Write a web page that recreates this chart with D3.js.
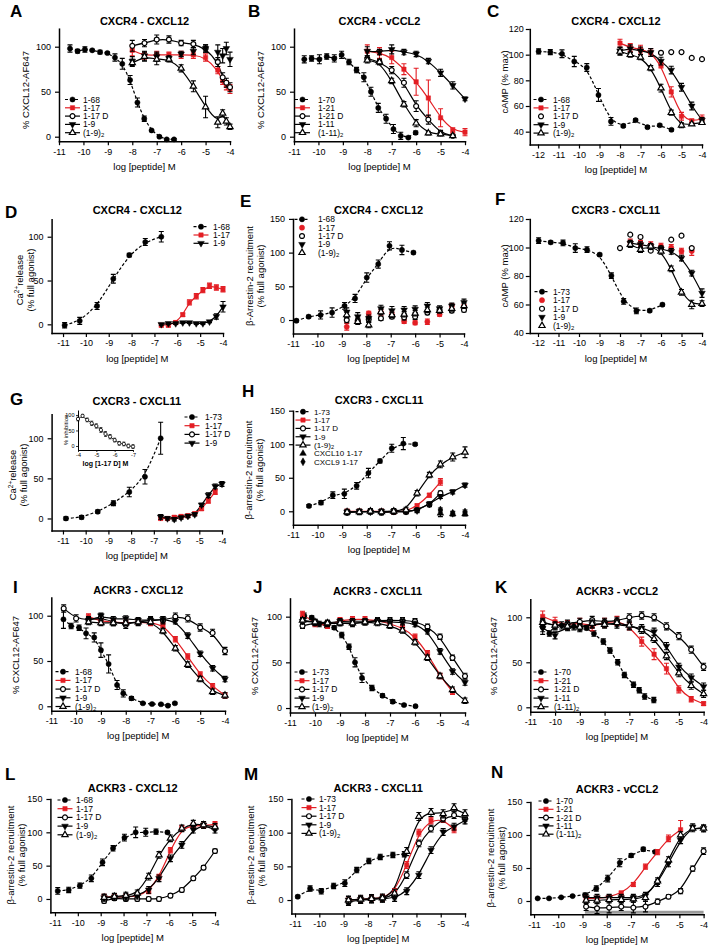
<!DOCTYPE html>
<html><head><meta charset="utf-8">
<script src="https://cdn.jsdelivr.net/npm/d3@7"></script>
<style>body{margin:0;background:#fff}svg{display:block}</style>
</head><body><svg id="c" width="709" height="945"></svg>
<script>
const FONT = '"Liberation Sans", Arial, sans-serif';
const RED = '#e31e24';
// ---------------- DATA ----------------
// Panel A
const A_x68 = [-10.55,-10.24,-9.94,-9.64,-9.32,-9.02,-8.71,-8.41,-8.09,-7.79,-7.51,-7.21,-6.89,-6.59,-6.29];
const A_y68 = [98,95,97,96,94,93,88,81,63,38,20,7,0,-3,-3];
const A_e68 = [4,2,3,1,2,1,4,6,5,5,3,1,1,1,1];
const A_xg = [-8,-7.5,-7,-6.5,-6,-5.5,-5,-4.5,-4.3,-4.15,-4];
const A_y117 = [96,90,91,91,91,91,88,74,62,57,53];
const A_e117 = [6,4,4,3,4,4,4,4,4,5,5];
const A_y117D = [101,104,108,108,104,103,98,83,66,60,55];
const A_e117D = [6,4,5,4,3,4,4,5,5,5,5];
const A_y19 = [84,90,89,87,92,95,98,94,90,98,86];
const A_e19 = [5,5,5,3,3,4,4,8,8,7,8];
const A_y19d = [82,89,86,86,76,56,33,16,26,17,11];
const A_e19d = [4,5,6,3,4,6,12,6,4,4,3];
// Panel B
const B_x70 = [-10.58,-10.28,-9.96,-9.66,-9.35,-9.05,-8.75,-8.44,-8.14,-7.85,-7.55,-7.23,-6.93,-6.63,-6.32,-6.02];
const B_y70 = [86,87,86,89,87,91,83,74,66,50,32,20,8.5,1,-1,4.4];
const B_e70 = [4,3,5,3,4,4,3,3,5,5,5,5,5,4,1,2];
const B_xg = [-8,-7.5,-7,-6.5,-6,-5.5,-5,-4.5,-4];
const B_y121 = [95,93,88,75,61,43,21,7,5];
const B_e121 = [7,6,7,6,15,20,10,3,4];
const B_y121D = [87,83,74,60,34,19,4,1];
const B_e121D = [3,3,4,5,6,5,3,1];
const B_y111 = [95,94,97,94,92,84,71,57,42];
const B_e111 = [5,3,5,3,3,3,4,4,2];
const B_y111d = [85,83,62,36,15,4,3,1];
const B_e111d = [3,3,3,3,4,2,2,1];
// Panel C
const C_x68 = [-11.97,-11.4,-10.83,-10.23,-9.62,-9.05,-8.44,-7.84,-7.24,-6.66,-6.06,-5.49];
const C_y68 = [102.5,102,100.7,94.7,90,68.6,48,44.5,49,43.5,45,41.5];
const C_e68 = [2,2,3,4,3,5,3,1,1,1,1,1];
const C_xg = [-8,-7.5,-7,-6.5,-6,-5.5,-5,-4.5,-4];
const C_y117 = [109,105.6,104.3,101.7,91.6,71,52,48,50];
const C_e117 = [3,3,3,3,2,4,3,2,3];
const C_x117D = [-6,-5.5,-5,-4.5,-4];
const C_y117D = [101.5,102,102,97.5,96.5];
const C_y19 = [103,104.6,103,101.7,95,88,74.6,60,49];
const C_e19 = [3,3,3,3,3,3,3,3,2];
const C_y19d = [102.5,100,98,89.5,73.9,54.8,45,46,47];
const C_e19d = [3,2,2,2,3,2,2,1,1];
// Panel D
const D_x68 = [-10.93,-10.27,-9.51,-8.80,-8.10,-7.40,-6.70];
const D_y68 = [-1,4,21,52,79,94,100];
const D_e68 = [3,4,4,5,2,4,6];
const D_xg = [-6.7,-6.39,-6.07,-5.76,-5.47,-5.17,-4.88,-4.59,-4.29,-4.0];
const D_y117 = [-1,-1,2,11,25,32,39,44,42,40];
const D_e117 = [2,2,2,2,3,3,3,3,3,3];
const D_y19 = [0,1,1,2,2,1,1,3,9,20];
const D_e19 = [1,1,1,1,1,1,1,1,3,6];
// Panel E
const E_x68 = [-10.86,-10.36,-9.87,-9.40,-8.89,-8.46,-7.98,-7.51,-7.05,-6.54,-6.07];
const E_y68 = [-1,5,7.5,11,21,32,63,83,110,104,100];
const E_e68 = [2,2,6,7,5,6,7,6,6,7,2];
const E_xg = [-8.8,-8.35,-7.9,-7.4,-6.95,-6.45,-6.0,-5.5,-5.0,-4.5,-4.0];
const E_y117 = [-10,-2,10,11,8,-2,-4,-2.5,8.5,21,20];
const E_e117 = [5,3,3,4,4,3,3,4,3,3,3];
const E_y117D = [0,-1,1,2.5,5,4,5,11,15,14,15];
const E_e117D = [4,4,4,3,3,4,4,3,3,3,3];
const E_y19 = [12,5,2.5,17,14,15,16,21,17,21,26];
const E_e19 = [6,6,5,5,6,5,5,5,4,4,5];
const E_y19d = [7.5,-2.5,-7.5,12,7.5,8.5,10,15,14,17,21];
const E_e19d = [4,4,4,4,4,4,4,4,4,4,4];
// Panel F
const F_x73 = [-11.97,-11.38,-10.78,-10.18,-9.61,-8.99,-8.42,-7.82,-7.2,-6.55,-5.93];
const F_y73 = [104.8,103.6,103.2,99.6,98.5,95,80.2,62.2,55.5,55.7,59.9];
const F_e73 = [2,1,2,3,2,1,2,2,2,1,1];
const F_x117 = [-7.5,-7,-6.5,-6,-5.5,-5,-4.5];
const F_y117 = [104,103,102,101,100,97.5,97.5];
const F_e117 = [2,2,2,2,2,2,3];
const F_x117D = [-8,-7.5,-7,-6.5,-6,-5.5,-5,-4.5];
const F_y117D = [99.6,109,107.4,97.8,99.6,105.5,108.3,99.6];
const F_x19 = [-7.5,-7,-6.5,-6,-5.5,-5,-4.5,-4];
const F_y19 = [103,102,100.8,99,97.3,92.6,82,68];
const F_e19 = [2,2,2,2,2,2,2,3];
const F_y19d = [102,98.5,100.8,97.3,85,68.5,60,60.6];
const F_e19d = [2,2,2,2,2,2,3,2];
// Panel G
const G_x73 = [-10.87,-10.18,-9.47,-8.78,-8.08,-7.39,-6.70];
const G_y73 = [0,1.5,8.5,19,33,52,100];
const G_e73 = [2,2,2,3,6,9,20];
const G_xg = [-6.7,-6.4,-6.1,-5.8,-5.5,-5.2,-4.9,-4.6,-4.3,-4.0];
const G_y117 = [0,0,1.5,2.5,3.5,6,12,22,33];
const G_e117 = [2,2,2,2,2,2,2,3,3];
const G_y19 = [2,0,-1,1,3,5,17,29,40,43];
const G_e19 = [3,2,2,2,2,2,2,3,3,3];
const G_ix = [-4,-4.25,-4.5,-4.75,-5,-5.25,-5.5,-5.75,-6,-6.25,-6.5,-6.75,-7];
const G_iy = [87,97,84,73,64.5,51.6,38.7,30,19,8.6,6.5,0,-2];
const G_ie = [6,5,6,7,7,8,8,7,6,6,6,6,6];
// Panel H
const H_x73 = [-10.35,-9.86,-9.38,-8.91,-8.41,-7.93,-7.46,-6.98,-6.51,-6.03];
const H_y73 = [8,13,24,26,38,57,75,94,101,100];
const H_e73 = [2,3,5,7,5,7,3,6,9,2];
const H_xg = [-8.8,-8.3,-7.85,-7.4,-6.9,-6.4,-5.95,-5.45,-5.0,-4.5,-4.0];
const H_y19d = [-1,-1,0,-1,0,2,27,54,70,81,88];
const H_e19d = [4,4,4,4,4,4,4,4,5,6,8];
const H_y117 = [0,0,0,0,-1,0,8,24,44];
const H_e117 = [3,3,3,3,3,3,3,3,5];
const H_y117D = [-2,-1,0,-2,-1,-1,2,10,27];
const H_y19 = [-1,0,-1,0,0,0,1,11,22,29,39];
const H_x109 = [-5,-4.5,-4];
const H_y10 = [-3,-4,-4];
const H_e10 = [5,3,3];
const H_y9 = [2,-3,-1];
// Panel I
const I_x68 = [-10.51,-10.2,-9.88,-9.6,-9.27,-9.0,-8.69,-8.35,-8.1,-7.77,-7.31,-6.94,-6.58,-6.3,-6.02];
const I_y68 = [96,88.6,86.8,80.5,76,62,46.7,23.5,14.3,8.8,3.3,2.5,2.2,0.7,3.3];
const I_e68 = [10,3,3,6,5,8,10,5,4,2,1,1,1,1,1];
const I_xg = [-10.5,-10,-9.5,-9,-8.5,-8,-7.5,-7,-6.5,-6,-5.5,-5,-4.5,-4];
const I_xg2 = [-9.5,-9,-8.5,-8,-7.5,-7,-6.5,-6,-5.5,-5,-4.5,-4];
const I_y117 = [99,94,93,92,93,92,90,74,55,35,22,12];
const I_y117D = [108,97,95,98,93,90,93,95,95,99,97,87,81,61];
const I_y19 = [95,100,96,97,95,95,96,94,78,58,42,30];
const I_y19d = [93,92,92,92,93,93,83,64,46,30,16,12];
// Panel J
const J_x73 = [-10.43,-10.13,-9.83,-9.53,-9.23,-8.93,-8.64,-8.4,-8.12,-7.72,-7.3,-6.89,-6.44,-5.98];
const J_y73 = [101,99,92,90,88,80,67,50,33,22,13.5,7,3.3,2];
const J_e73 = [3,2,3,2,2,3,3,5,5,3,2,2,1,1];
const J_xg = [-10.5,-10,-9.5,-9,-8.5,-8,-7.5,-7,-6.5,-6,-5.5,-5,-4.5,-4];
const J_y117 = [103,92,90,96,97,97,96,92,88,78,60,35,18];
const J_y117D = [90,93,92,93,92,94,96,96,96,95,89,78,55,35];
const J_y19 = [95,94,93,95,95,95,95,94,94,92,84,62,40,28];
const J_y19d = [96,94,93,93,93,94,93,90,85,72,55,35,20,8];
// Panel K
const K_x70 = [-10.5,-10.23,-10,-9.73,-9.49,-9.24,-8.99,-8.72,-8.43,-8.05,-7.78,-7.47,-7.2,-6.83,-6.6,-6.38,-6.01];
const K_y70 = [89,82,91,91,90,90,89,88,82,73,63,50,36,25,19,12,8];
const K_e70 = [8,3,3,4,5,4,3,2,3,3,3,3,3,3,3,3,3];
const K_xg = [-10.5,-10,-9.5,-9,-8.5,-8,-7.5,-7,-6.5,-6,-5.5,-5,-4.5,-4];
const K_y121 = [101,95,91.5,94,90,94,96,90,73,59,43,20,9,4];
const K_e121 = [6,5,5,5,5,5,5,4,5,6,6,4,3,2];
const K_y121D = [95,90,93,95,97,95,96,100,102,100,90,79,64,45];
const K_y111 = [88,80,90,88,92,93,92,90,88,84,68,45,33,23];
const K_y111d = [94,91,90,89,93,92,94,91,86,76,57,38,24,15];
// Panel L
const L_x68 = [-10.88,-10.4,-9.91,-9.41,-8.92,-8.46,-7.96,-7.47,-7.03,-6.58,-6.08];
const L_y68 = [12,13.5,20,31,55,76,92,100,100,101,100];
const L_e68 = [5,4,4,5,5,4,5,8,6,4,2];
const L_xg = [-8.85,-8.4,-7.9,-7.4,-6.9,-6.45,-5.95,-5.45,-4.95,-4.5,-4];
const L_y19d = [2,3.5,5,8.5,33.5,66,91,106,113,111,108];
const L_y117 = [3,3,3,4,12,33,73,106,110,110,112];
const L_y19 = [2,3,3,5,13.5,31,61,81,104,111,104];
const L_y117D = [-3,1,0,0,0,0,5,13.5,31,47,72];
// Panel M
const M_x73 = [-10.89,-10.38,-9.92,-9.41,-8.95,-8.46,-7.96,-7.49,-6.97,-6.5];
const M_y73 = [5,17,13,21,25,44.5,58,64,67,68];
const M_e73 = [2,4,4,4,5,4,4,4,4,4];
const M_xg = [-8.8,-8.3,-7.85,-7.4,-6.9,-6.4,-5.9,-5.4,-4.9,-4.45,-4];
const M_y19d = [0,1,2,3,10,72,124,130,128,137,128];
const M_y117 = [0,1,2,3,12,52,100,118,120,105];
const M_y117D = [-3,0,1,2,7,37,84,106,121,126,122];
const M_y19 = [0,1,1,2,3,13,37,74,101,109,118];
// Panel N
const N_x70 = [-10.85,-10.38,-9.88,-9.41,-8.89,-8.43,-7.96,-7.46,-6.99,-6.49,-6.0];
const N_y70 = [4,4,5.5,7.5,9,19,34,58,69,78.5,74.5];
const N_e70 = [1,1,1,1,3,4,5,6,3,3,2];
const N_xg = [-8.85,-8.4,-7.9,-7.4,-6.9,-6.4,-5.9,-5.45,-4.95,-4.45,-4];
const N_y121 = [4,4,6,12,25,52,74,95,108];
const N_e121 = [3,3,3,3,3,4,4,5,14];
const N_y121D = [-8.5,-11,-10,-8.5,-10,-8.5,-1,6.5,15,49,75.5];
const N_e121D = [6,8,8,6,8,8,4,3,4,4,5];
const N_y111 = [5,5,5,5,5,8,27,57,92,112,110];
const N_y111d = [1,1,2,2,3,5,30,62,100,110,110];
const N_band = [-8.9,-4];

const XT11 = [-11,-10,-9,-8,-7,-6,-5,-4];
const XT12 = [-12,-11,-10,-9,-8,-7,-6,-5,-4];

// ---------------- DRAW ----------------
const svg = d3.select('#c');
const K = '#000';
function S(x,y,e,s,c,ln,lab,extra){ return Object.assign({x,y,e,s,c,ln,lab},extra||{}); }

function rich(t, str){
  const parts = str.split(/(_\d+|\^[^^]+\^)/).filter(p=>p!=='');
  let pend = 0;
  parts.forEach(p=>{
    if(p[0]==='_'){ t.append('tspan').attr('dy',1.2+pend).attr('font-size','70%').text(p.slice(1)); pend=-1.2; }
    else if(p[0]==='^'){ t.append('tspan').attr('dy',-3.5+pend).attr('font-size','68%').text(p.slice(1,-1)); pend=3.5; }
    else { const ts=t.append('tspan').text(p); if(pend) ts.attr('dy',pend); pend=0; }
  });
}
const SYM = {circle:[d3.symbolCircle,21,1], ocircle:[d3.symbolCircle,19,0], square:[d3.symbolSquare,19,1],
  dtri:[d3.symbolTriangle,19,1], otri:[d3.symbolTriangle,17,0], tri:[d3.symbolTriangle,19,1], diamond:[d3.symbolDiamond,18,1]};
function drawSym(g, type, color, cx, cy, k){
  k = k||1;
  const [t,a,f] = SYM[type];
  g.append('path').attr('d', d3.symbol(t, a*k)())
    .attr('transform', `translate(${cx},${cy})` + (type==='dtri'?' rotate(180)':''))
    .attr('fill', f?color:'#fff').attr('stroke', color).attr('stroke-width', f?0.5:1.2*Math.sqrt(k));
}

function drawPanel(p){
  const g = svg.append('g');
  const x = d3.scaleLinear().domain(p.xd).range(p.xr);
  const y = d3.scaleLinear().domain(p.yd).range(p.yr);
  const cx = (p.xr[0]+p.xr[1])/2;
  g.append('text').attr('x',p.lx).attr('y',p.ly).attr('font-family',FONT).attr('font-weight','bold').attr('font-size',17).text(p.L);
  g.append('text').attr('x',cx).attr('y',p.ty).attr('text-anchor','middle').attr('font-family',FONT).attr('font-weight','bold').attr('font-size',11).text(p.title);
  const ax = g.append('g').attr('transform',`translate(0,${p.yr[0]})`)
    .call(d3.axisBottom(x).tickValues(p.xt).tickSize(4).tickSizeOuter(0).tickPadding(3).tickFormat(d=>String(d)));
  const ay = g.append('g').attr('transform',`translate(${p.xr[0]},0)`)
    .call(d3.axisLeft(y).tickValues(p.yt).tickSize(4).tickSizeOuter(0).tickPadding(p.ytp||4).tickFormat(d=>String(d)));
  [ax,ay].forEach(a=>{
    a.attr('font-family',FONT).attr('font-size',9);
    a.select('.domain').attr('stroke-width',1.5).attr('stroke-linecap','square');
    a.selectAll('.tick line').attr('stroke-width',1.2);
  });
  g.append('text').attr('x',cx).attr('y',p.yr[0]+28.5).attr('text-anchor','middle').attr('font-family',FONT).attr('font-size',9.5).text('log [peptide] M');
  p.ylab.forEach((l,i)=>{
    const t = g.append('text').attr('transform',`translate(${p.ylx[i]},${p.yly}) rotate(-90)`).attr('text-anchor','middle').attr('font-family',FONT).attr('font-size',9.5);
    rich(t,l);
  });
  if(p.band){
    g.append('path').attr('d',`M${x(p.band[0])},${p.yr[0]-2}H${x(p.band[1])}`).attr('stroke','#9a9a9a').attr('stroke-width',3);
  }
  const line = d3.line().x(d=>x(d[0])).y(d=>y(d[1])).curve(d3.curveBasis);
  const ptsOf = s => s.x.map((v,i)=>[v, s.y[i], s.e==null?0:(Array.isArray(s.e)?s.e[i]:s.e)]).filter(d=>d[1]!=null);
  p.series.forEach(s=>{
    const pts = ptsOf(s);
    if(pts.length && s.ln){
      g.append('path').attr('d',line(pts)).attr('fill','none').attr('stroke',s.c).attr('stroke-width',1.2)
        .attr('stroke-dasharray', s.ln==='dash'?'3,2':null);
    }
  });
  p.series.forEach(s=>{
    const pts = ptsOf(s);
    pts.forEach(d=>{
      if(d[2]>0){
        const X=x(d[0]), y0=y(d[1]-d[2]), y1=y(d[1]+d[2]);
        g.append('path').attr('d',`M${X},${y0}V${y1}M${X-2.5},${y0}h5M${X-2.5},${y1}h5`).attr('stroke',s.c).attr('stroke-width',1.1).attr('fill','none');
      }
    });
    pts.forEach(d=> drawSym(g, s.s, s.c, x(d[0]), y(d[1])));
  });
  const L = p.leg;
  p.series.forEach((s,i)=>{
    const yy = L.y0 + i*L.dy;
    const lg = s.legln!==undefined ? s.legln : s.ln;
    if(lg) g.append('path').attr('d',`M${L.cx-7.5},${yy}H${L.cx+7.5}`).attr('stroke',s.c).attr('stroke-width',1.2).attr('stroke-dasharray', lg==='dash'?'3,2':null);
    drawSym(g, s.s, s.c, L.cx, yy);
    const t = g.append('text').attr('x',L.tx).attr('y',yy+3).attr('font-family',FONT).attr('font-size',L.fs||8.5).attr('fill','#000');
    rich(t, s.lab);
  });
  return {g,x,y};
}

const panels = [
 {L:'A',lx:10,ly:17,title:'CXCR4 - CXCL12',ty:25,xd:[-11,-4],xr:[59,230],yd:[-5,120],yr:[141.2,28.7],xt:XT11,yt:[0,50,100],
  ylab:['% CXCL12-AF647'],ylx:[28.5],yly:90,leg:{cx:72.5,tx:83,y0:99.5,dy:8.3},
  series:[S(A_x68,A_y68,A_e68,'circle',K,'dash','1-68'),S(A_xg,A_y117,A_e117,'square',RED,'solid','1-17'),
   S(A_xg,A_y117D,A_e117D,'ocircle',K,'solid','1-17 D'),S(A_xg,A_y19,A_e19,'dtri',K,null,'1-9',{legln:'solid'}),S(A_xg,A_y19d,A_e19d,'otri',K,'solid','(1-9)_2')]},
 {L:'B',lx:248,ly:17,title:'CXCR4 - vCCL2',ty:25,xd:[-11,-4],xr:[294,465],yd:[-5,120],yr:[141.2,28.7],xt:XT11,yt:[0,50,100],
  ylab:['% CXCL12-AF647'],ylx:[263.5],yly:90,leg:{cx:302.5,tx:318,y0:99.5,dy:8.3},
  series:[S(B_x70,B_y70,B_e70,'circle',K,'dash','1-70'),S(B_xg,B_y121,B_e121,'square',RED,'solid','1-21'),
   S(B_xg,B_y121D,B_e121D,'ocircle',K,'solid','1-21 D'),S(B_xg,B_y111,B_e111,'dtri',K,'solid','1-11'),S(B_xg,B_y111d,B_e111d,'otri',K,'solid','(1-11)_2')]},
 {L:'C',lx:487,ly:17,title:'CXCR4 - CXCL12',ty:25,xd:[-12.4,-4],xr:[529.8,702],yd:[30,120],yr:[144.5,29],xt:XT12,yt:[40,60,80,100,120],ytp:2,
  ylab:['cAMP (% max)'],ylx:[507.5],yly:82,leg:{cx:541,tx:553,y0:99.5,dy:8.4},
  series:[S(C_x68,C_y68,C_e68,'circle',K,'dash','1-68'),S(C_xg,C_y117,C_e117,'square',RED,'solid','1-17'),
   S(C_x117D,C_y117D,null,'ocircle',K,null,'1-17 D'),S(C_xg,C_y19,C_e19,'dtri',K,'solid','1-9'),S(C_xg,C_y19d,C_e19d,'otri',K,'solid','(1-9)_2')]},
 {L:'D',lx:5,ly:218,title:'CXCR4 - CXCL12',ty:214,xd:[-11.5,-4],xr:[51.6,223],yd:[-10,120],yr:[333.1,219.2],xt:XT11,yt:[0,50,100],
  ylab:['Ca^2+^release','(% full agonist)'],ylx:[22.5,33.5],yly:280,leg:{cx:201,tx:213,y0:226.7,dy:8.3},
  series:[S(D_x68,D_y68,D_e68,'circle',K,'dash','1-68'),S(D_xg,D_y117,D_e117,'square',RED,'solid','1-17'),S(D_xg,D_y19,D_e19,'dtri',K,'solid','1-9')]},
 {L:'E',lx:240,ly:207,title:'CXCR4 - CXCL12',ty:214,xd:[-11,-4],xr:[293,464],yd:[-20,150],yr:[333.5,218.9],xt:XT11,yt:[0,50,100,150],
  ylab:['\u03b2-Arrestin-2 recruitment','(% full agonist)'],ylx:[253,264],yly:276,leg:{cx:302,tx:318,y0:219.3,dy:8.35},
  series:[S(E_x68,E_y68,E_e68,'circle',K,'dash','1-68'),S(E_xg,E_y117,E_e117,'circle',RED,null,'1-17'),
   S(E_xg,E_y117D,E_e117D,'ocircle',K,null,'1-17 D'),S(E_xg,E_y19,E_e19,'dtri',K,null,'1-9'),S(E_xg,E_y19d,E_e19d,'otri',K,null,'(1-9)_2')]},
 {L:'F',lx:495,ly:205,title:'CXCR3 - CXCL11',ty:214,xd:[-12.4,-4],xr:[529.8,702],yd:[40,120],yr:[333,219],xt:XT12,yt:[40,60,80,100,120],ytp:2,
  ylab:['cAMP (% max)'],ylx:[507.5],yly:276,leg:{cx:542,tx:553,y0:291.7,dy:8.5},
  series:[S(F_x73,F_y73,F_e73,'circle',K,'dash','1-73'),S(F_x117,F_y117,F_e117,'circle',RED,null,'1-17'),
   S(F_x117D,F_y117D,null,'ocircle',K,null,'1-17 D'),S(F_x19,F_y19,F_e19,'dtri',K,'solid','1-9',{legln:null}),S(F_x19,F_y19d,F_e19d,'otri',K,'solid','(1-9)_2',{legln:null})]},
 {L:'G',lx:10,ly:405,title:'CXCR3 - CXCL11',ty:405,xd:[-11.5,-4],xr:[51.6,222],yd:[-15,130],yr:[530.5,414.2],xt:XT11,yt:[0,50,100],
  ylab:['Ca^2+^release','(% full agonist)'],ylx:[16,27],yly:475,leg:{cx:192,tx:205,y0:417,dy:8.7},
  series:[S(G_x73,G_y73,G_e73,'circle',K,'dash','1-73'),S(G_xg,G_y117,G_e117,'square',RED,'solid','1-17'),
   S([],[],null,'ocircle',K,'solid','1-17 D'),S(G_xg,G_y19,G_e19,'dtri',K,'solid','1-9')]},
 {L:'H',lx:242,ly:397,title:'CXCR3 - CXCL11',ty:404,xd:[-11,-4],xr:[293,465],yd:[-20,150],yr:[524.7,410.7],xt:XT11,yt:[0,50,100,150],
  ylab:['\u03b2-arrestin-2 recruitment','(% full agonist)'],ylx:[251.5,262.5],yly:470,leg:{cx:303,tx:314,y0:411.7,dy:8.35,fs:8},
  series:[S(H_x73,H_y73,H_e73,'circle',K,'dash','1-73'),S(H_xg,H_y117,H_e117,'square',RED,'solid','1-17'),
   S(H_xg,H_y117D,3,'ocircle',K,'solid','1-17 D'),S(H_xg,H_y19,3,'dtri',K,'solid','1-9'),S(H_xg,H_y19d,H_e19d,'otri',K,'solid','(1-9)_2'),
   S(H_x109,H_y10,H_e10,'tri',K,null,'CXCL10 1-17'),S(H_x109,H_y9,3,'diamond',K,null,'CXCL9 1-17')]},
 {L:'I',lx:13,ly:593,title:'ACKR3 - CXCL12',ty:594,xd:[-11,-4],xr:[51.3,225],yd:[-5,120],yr:[710.8,597.6],xt:XT11,yt:[0,50,100],
  ylab:['% CXCL12-AF647'],ylx:[19],yly:655,leg:{cx:63,tx:75,y0:671.7,dy:8.7},
  series:[S(I_x68,I_y68,I_e68,'circle',K,'dash','1-68'),S(I_xg2,I_y117,3,'square',RED,'solid','1-17'),
   S(I_xg,I_y117D,4,'ocircle',K,'solid','1-17 D'),S(I_xg2,I_y19,3,'dtri',K,'solid','1-9'),S(I_xg2,I_y19d,3,'otri',K,'solid','(1-9)_2')]},
 {L:'J',lx:253,ly:593,title:'ACKR3 - CXCL11',ty:595,xd:[-11,-4],xr:[290,465],yd:[-5,120],yr:[712.6,598.4],xt:XT11,yt:[0,50,100],
  ylab:['% CXCL12-AF647'],ylx:[258],yly:656,leg:{cx:302,tx:312,y0:672,dy:8.7},
  series:[S(J_x73,J_y73,J_e73,'circle',K,'dash','1-73'),S(J_xg,J_y117,3,'square',RED,'solid','1-17'),
   S(J_xg,J_y117D,3,'ocircle',K,'solid','1-17 D'),S(J_xg,J_y19,3,'dtri',K,'solid','1-9'),S(J_xg,J_y19d,3,'otri',K,'solid','(1-9)_2')]},
 {L:'K',lx:495,ly:593,title:'ACKR3 - vCCL2',ty:595,xd:[-11,-4],xr:[530.3,703.6],yd:[-5,120],yr:[711.8,599.3],xt:XT11,yt:[0,50,100],
  ylab:['% CXCL12-AF647'],ylx:[497],yly:656,leg:{cx:541,tx:554,y0:672,dy:8.7},
  series:[S(K_x70,K_y70,K_e70,'circle',K,'dash','1-70'),S(K_xg,K_y121,K_e121,'square',RED,'solid','1-21'),
   S(K_xg,K_y121D,4,'ocircle',K,'solid','1-21 D'),S(K_xg,K_y111,4,'dtri',K,'solid','1-11'),S(K_xg,K_y111d,4,'otri',K,'solid','(1-11)_2')]},
 {L:'L',lx:5,ly:780,title:'ACKR3 - CXCL12',ty:792,xd:[-11.2,-4],xr:[50.4,215],yd:[-20,150],yr:[912.3,799],xt:XT11,yt:[0,50,100,150],
  ylab:['\u03b2-arrestin-2 recruitment','(% full agonist)'],ylx:[14,25],yly:855,leg:{cx:65,tx:76,y0:800,dy:8.7},
  series:[S(L_x68,L_y68,L_e68,'circle',K,'dash','1-68'),S(L_xg,L_y117,4,'square',RED,'solid','1-17'),
   S(L_xg,L_y117D,3,'ocircle',K,'solid','1-17 D'),S(L_xg,L_y19,5,'dtri',K,'solid','1-9'),S(L_xg,L_y19d,5,'otri',K,'solid','(1-9)_2')]},
 {L:'M',lx:244,ly:780,title:'ACKR3 - CXCL11',ty:792,xd:[-11.15,-4],xr:[291.4,465],yd:[-20,150],yr:[913.5,799],xt:XT11,yt:[0,50,100,150],
  ylab:['\u03b2-arrestin-2 recruitment','(% full agonist)'],ylx:[254,265],yly:855,leg:{cx:309,tx:319,y0:799,dy:8.6},
  series:[S(M_x73,M_y73,M_e73,'circle',K,'dash','1-73'),S(M_xg,M_y117,5,'square',RED,'solid','1-17'),
   S(M_xg,M_y117D,5,'ocircle',K,'solid','1-17 D'),S(M_xg,M_y19,5,'dtri',K,'solid','1-9'),S(M_xg,M_y19d,6,'otri',K,'solid','(1-9)_2')]},
 {L:'N',lx:491,ly:778,title:'ACKR3 - vCCL2',ty:793,xd:[-11.15,-4],xr:[530.4,703.6],yd:[-20,150],yr:[914.2,802],xt:XT11,yt:[0,50,100,150],band:N_band,
  ylab:['\u03b2-arrestin-2 recruitment','(% full agonist)'],ylx:[494,505],yly:858,leg:{cx:546,tx:556,y0:801,dy:8.3},
  series:[S(N_x70,N_y70,N_e70,'circle',K,'dash','1-70'),S(N_xg,N_y121,N_e121,'square',RED,'solid','1-21'),
   S(N_xg,N_y121D,N_e121D,'ocircle',K,'solid','1-21 D'),S(N_xg,N_y111,5,'dtri',K,'solid','1-11'),S(N_xg,N_y111d,5,'otri',K,'solid','(1-11)_2')]}
];
panels.forEach(drawPanel);

// Inset in panel G
(function(){
  const g = svg.append('g');
  const ix = d3.scaleLinear().domain([-4,-7]).range([78,133]);
  const iy = d3.scaleLinear().domain([-13,116]).range([450,410]);
  const a1 = g.append('g').attr('transform','translate(0,450)').call(d3.axisBottom(ix).tickValues([-4,-5,-6,-7]).tickSize(2).tickSizeOuter(0).tickPadding(1.5).tickFormat(d=>String(d)));
  const a2 = g.append('g').attr('transform','translate(78,0)').call(d3.axisLeft(iy).tickValues([0,50,100]).tickSize(2).tickSizeOuter(0).tickPadding(1.5).tickFormat(d=>String(d)));
  [a1,a2].forEach(a=>{a.attr('font-family',FONT).attr('font-size',5.5); a.select('.domain').attr('stroke-width',1); a.selectAll('.tick line').attr('stroke-width',0.8);});
  g.append('text').attr('x',105.5).attr('y',466).attr('text-anchor','middle').attr('font-family',FONT).attr('font-size',7).attr('font-weight','bold').text('log [1-17 D] M');
  g.append('text').attr('transform','translate(68,430) rotate(-90)').attr('text-anchor','middle').attr('font-family',FONT).attr('font-size',6).text('% inhibition');
  const pts = G_ix.map((v,i)=>[v,G_iy[i],G_ie[i]]);
  g.append('path').attr('d',d3.line().x(d=>ix(d[0])).y(d=>iy(d[1])).curve(d3.curveBasis)(pts)).attr('fill','none').attr('stroke','#000').attr('stroke-width',0.8);
  pts.forEach(d=>{const X=ix(d[0]);g.append('path').attr('d',`M${X},${iy(d[1]-d[2])}V${iy(d[1]+d[2])}M${X-1.5},${iy(d[1]-d[2])}h3M${X-1.5},${iy(d[1]+d[2])}h3`).attr('stroke','#000').attr('stroke-width',0.7);});
  pts.forEach(d=>drawSym(g,'ocircle','#000',ix(d[0]),iy(d[1]),0.45));
})();
</script></body></html>
